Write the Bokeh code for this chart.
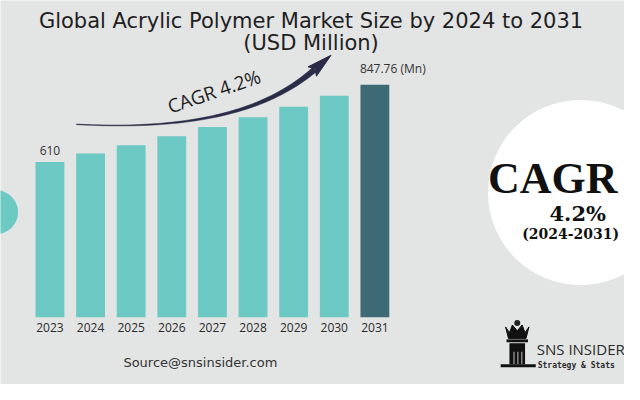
import numpy as np
from bokeh.plotting import figure
from bokeh.models import Label, FixedTicker, Range1d
from bokeh.core.properties import value
from bokeh.embed import file_html
from bokeh.resources import INLINE

# ---------------- data ----------------
years = [2023, 2024, 2025, 2026, 2027, 2028, 2029, 2030, 2031]
market_size = [610, 636.5, 662, 689.6, 718, 747.7, 780, 813.6, 847.76]
bar_colors = ["#6cc9c4"] * 8 + ["#3e6a76"]
label_years = [2023, 2031]
label_values = [610, 847.76]
label_texts = ["610", "847.76 (Mn)"]
title_line1 = "Global Acrylic Polymer Market Size by 2024 to 2031"
title_line2 = "(USD Million)"
cagr_curve_text = "CAGR  4.2%"
cagr_big = "CAGR"
cagr_value = "4.2%"
cagr_period = "(2024-2031)"
source_text = "Source@snsinsider.com"
brand_name = "SNS INSIDER"
brand_tag = "Strategy & Stats"

# ---------------- layout ----------------
W, H = 624, 384
SX, SY = W / 640, H / 400          # reference pixel -> canvas pixel
BG = "#e3e4e4"
TEAL = "#6cc9c4"
NAVY = "#2a2c47"
BASE = 133.0                       # value at the bars' baseline
UPX = 2.95                         # value units per reference pixel
BASE_PY = 330                      # reference pixel row of the baseline
YEAR_PX = 41.66                    # reference pixels per year
X0 = 2023 - 50.7 / YEAR_PX
X1 = X0 + 640 / YEAR_PX
Y1 = BASE + BASE_PY * UPX
Y0 = BASE - (400 - BASE_PY) * UPX


def dx(px):
    return X0 + px / YEAR_PX


def dy(py):
    return BASE + (BASE_PY - py) * UPX


p = figure(width=W, height=H, x_range=Range1d(X0, X1), y_range=Range1d(Y0, Y1),
           output_backend="svg", toolbar_location=None,
           min_border_left=0, min_border_right=0, min_border_top=0,
           min_border_bottom=0, y_axis_location=None)
p.background_fill_color = BG
p.border_fill_color = BG
p.outline_line_color = None
p.grid.visible = False

ax = p.xaxis[0]
ax.fixed_location = BASE
ax.ticker = FixedTicker(ticks=years)
ax.axis_line_color = None
ax.major_tick_line_color = None
ax.minor_tick_line_color = None
ax.major_tick_out = 0
ax.major_tick_in = 0
ax.major_label_standoff = 6
ax.major_label_text_font = "Open Sans"
ax.major_label_text_font_size = "12px"
ax.major_label_text_color = "#2b2b2b"

# white CAGR circle on the right
p.scatter(x=[dx(595)], y=[dy(200)], size=190 * SX, marker="circle",
          fill_color="white", line_color=None)
# partial teal circle on the left edge
p.scatter(x=[dx(-4.5)], y=[dy(220.5)], size=45 * SX, marker="circle",
          fill_color=TEAL, line_color=None)

# bars
p.vbar(x=years, top=market_size, bottom=BASE, width=0.71, fill_color=bar_colors,
       line_color=None)

# value labels
p.text(x=label_years[:1], y=label_values[:1], text=label_texts[:1],
       text_align="center", text_baseline="bottom", y_offset=-7,
       text_font=value("Open Sans"), text_font_size="12px", text_color="#333333")
p.text(x=label_years[1:], y=label_values[1:], text=label_texts[1:],
       text_align="left", text_baseline="bottom", x_offset=-15, y_offset=-8,
       text_font=value("Open Sans"), text_font_size="12px", text_color="#333333")

# CAGR swoosh arrow (decorative), defined in reference pixels
P0, P1, P2, P3 = map(np.array, [(78, 129), (190, 135), (270, 118), (322, 72)])
t = np.linspace(0, 1, 60)
pts = ((1 - t) ** 3)[:, None] * P0 + (3 * (1 - t) ** 2 * t)[:, None] * P1 \
    + (3 * (1 - t) * t ** 2)[:, None] * P2 + (t ** 3)[:, None] * P3
der = (3 * (1 - t) ** 2)[:, None] * (P1 - P0) + (6 * (1 - t) * t)[:, None] * (P2 - P1) \
    + (3 * t ** 2)[:, None] * (P3 - P2)
nrm = np.stack([-der[:, 1], der[:, 0]], axis=1)
nrm /= np.linalg.norm(nrm, axis=1)[:, None]
hw = 0.3 + 2.6 * t ** 1.5
upper = pts + nrm * hw[:, None]
lower = pts - nrm * hw[:, None]
poly = np.vstack([upper, lower[::-1]])
p.patch(x=[dx(v) for v in poly[:, 0]], y=[dy(v) for v in poly[:, 1]],
        fill_color=NAVY, line_color=NAVY, line_width=0.5)
tip = np.array([339.0, 57.0])
d = (tip - P3) / np.linalg.norm(tip - P3)
n = np.array([-d[1], d[0]])
base = P3 - d * 3
head = [tip, base + n * 6.5, base + d * 4, base - n * 6.5]
p.patch(x=[dx(v[0]) for v in head], y=[dy(v[1]) for v in head],
        fill_color=NAVY, line_color=NAVY)

p.add_layout(Label(x=dx(172), y=dy(111), text=cagr_curve_text, angle=0.33,
                   text_align="left", text_baseline="middle",
                   text_font="Open Sans", text_font_size="19px", text_color="#1e1e1e"))

# titles
p.add_layout(Label(x=dx(318.5), y=dy(21), text=title_line1, text_align="center",
                   text_baseline="middle", text_font="DejaVu Sans",
                   text_font_size="21px", text_color="#1f1f1f"))
p.add_layout(Label(x=dx(318.5), y=dy(44), text=title_line2, text_align="center",
                   text_baseline="middle", text_font="DejaVu Sans",
                   text_font_size="21px", text_color="#1f1f1f"))

# CAGR circle texts
p.add_layout(Label(x=dx(500), y=dy(185), text=cagr_big, text_align="left",
                   text_baseline="middle", text_font="Liberation Serif",
                   text_font_style="bold", text_font_size="44px", text_color="#111111"))
p.add_layout(Label(x=dx(592), y=dy(222), text=cagr_value, text_align="center",
                   text_baseline="middle", text_font="DejaVu Serif",
                   text_font_style="bold", text_font_size="21px", text_color="#111111"))
p.add_layout(Label(x=dx(535), y=dy(243), text=cagr_period, text_align="left",
                   text_baseline="middle", text_font="DejaVu Serif",
                   text_font_style="bold", text_font_size="14px", text_color="#111111"))

# source line
p.add_layout(Label(x=dx(205), y=dy(377), text=source_text, text_align="center",
                   text_baseline="middle", text_font="DejaVu Sans",
                   text_font_size="13px", text_color="#333333"))

# logo (decorative king piece made of simple shapes)
crown = [(518, 340), (522, 346), (525, 338), (530, 344), (535, 338), (538, 346),
         (542, 340), (539, 352), (521, 352)]
p.patch(x=[dx(a) for a, b in crown], y=[dy(b) for a, b in crown],
        fill_color="#111111", line_color="#111111")
p.scatter(x=[dx(530)], y=[dy(336)], size=6, marker="circle", fill_color="#222222",
          line_color=None)
p.quad(left=[dx(519)], right=[dx(541)], top=[dy(353)], bottom=[dy(356)],
       fill_color="#111111", line_color=None)
p.quad(left=[dx(522)], right=[dx(538)], top=[dy(357)], bottom=[dy(379)],
       fill_color="#111111", line_color=None)
p.quad(left=[dx(526), dx(530), dx(534)], right=[dx(527.3), dx(531.3), dx(535.3)],
       top=[dy(366)] * 3, bottom=[dy(379)] * 3, fill_color="#9a9a9a", line_color=None)
p.quad(left=[dx(513)], right=[dx(549)], top=[dy(379)], bottom=[dy(382)],
       fill_color="#111111", line_color=None)

p.add_layout(Label(x=dx(550), y=dy(363), text=brand_name, text_align="left",
                   text_baseline="middle", text_font="Open Sans",
                   text_font_size="15px", text_color="#2a2a2a"))
p.add_layout(Label(x=dx(551), y=dy(380), text=brand_tag, text_align="left",
                   text_baseline="middle", text_font="DejaVu Sans Mono",
                   text_font_style="bold", text_font_size="8px", text_color="#2a2a2a"))

open("out.html", "w").write(file_html(p, INLINE))
